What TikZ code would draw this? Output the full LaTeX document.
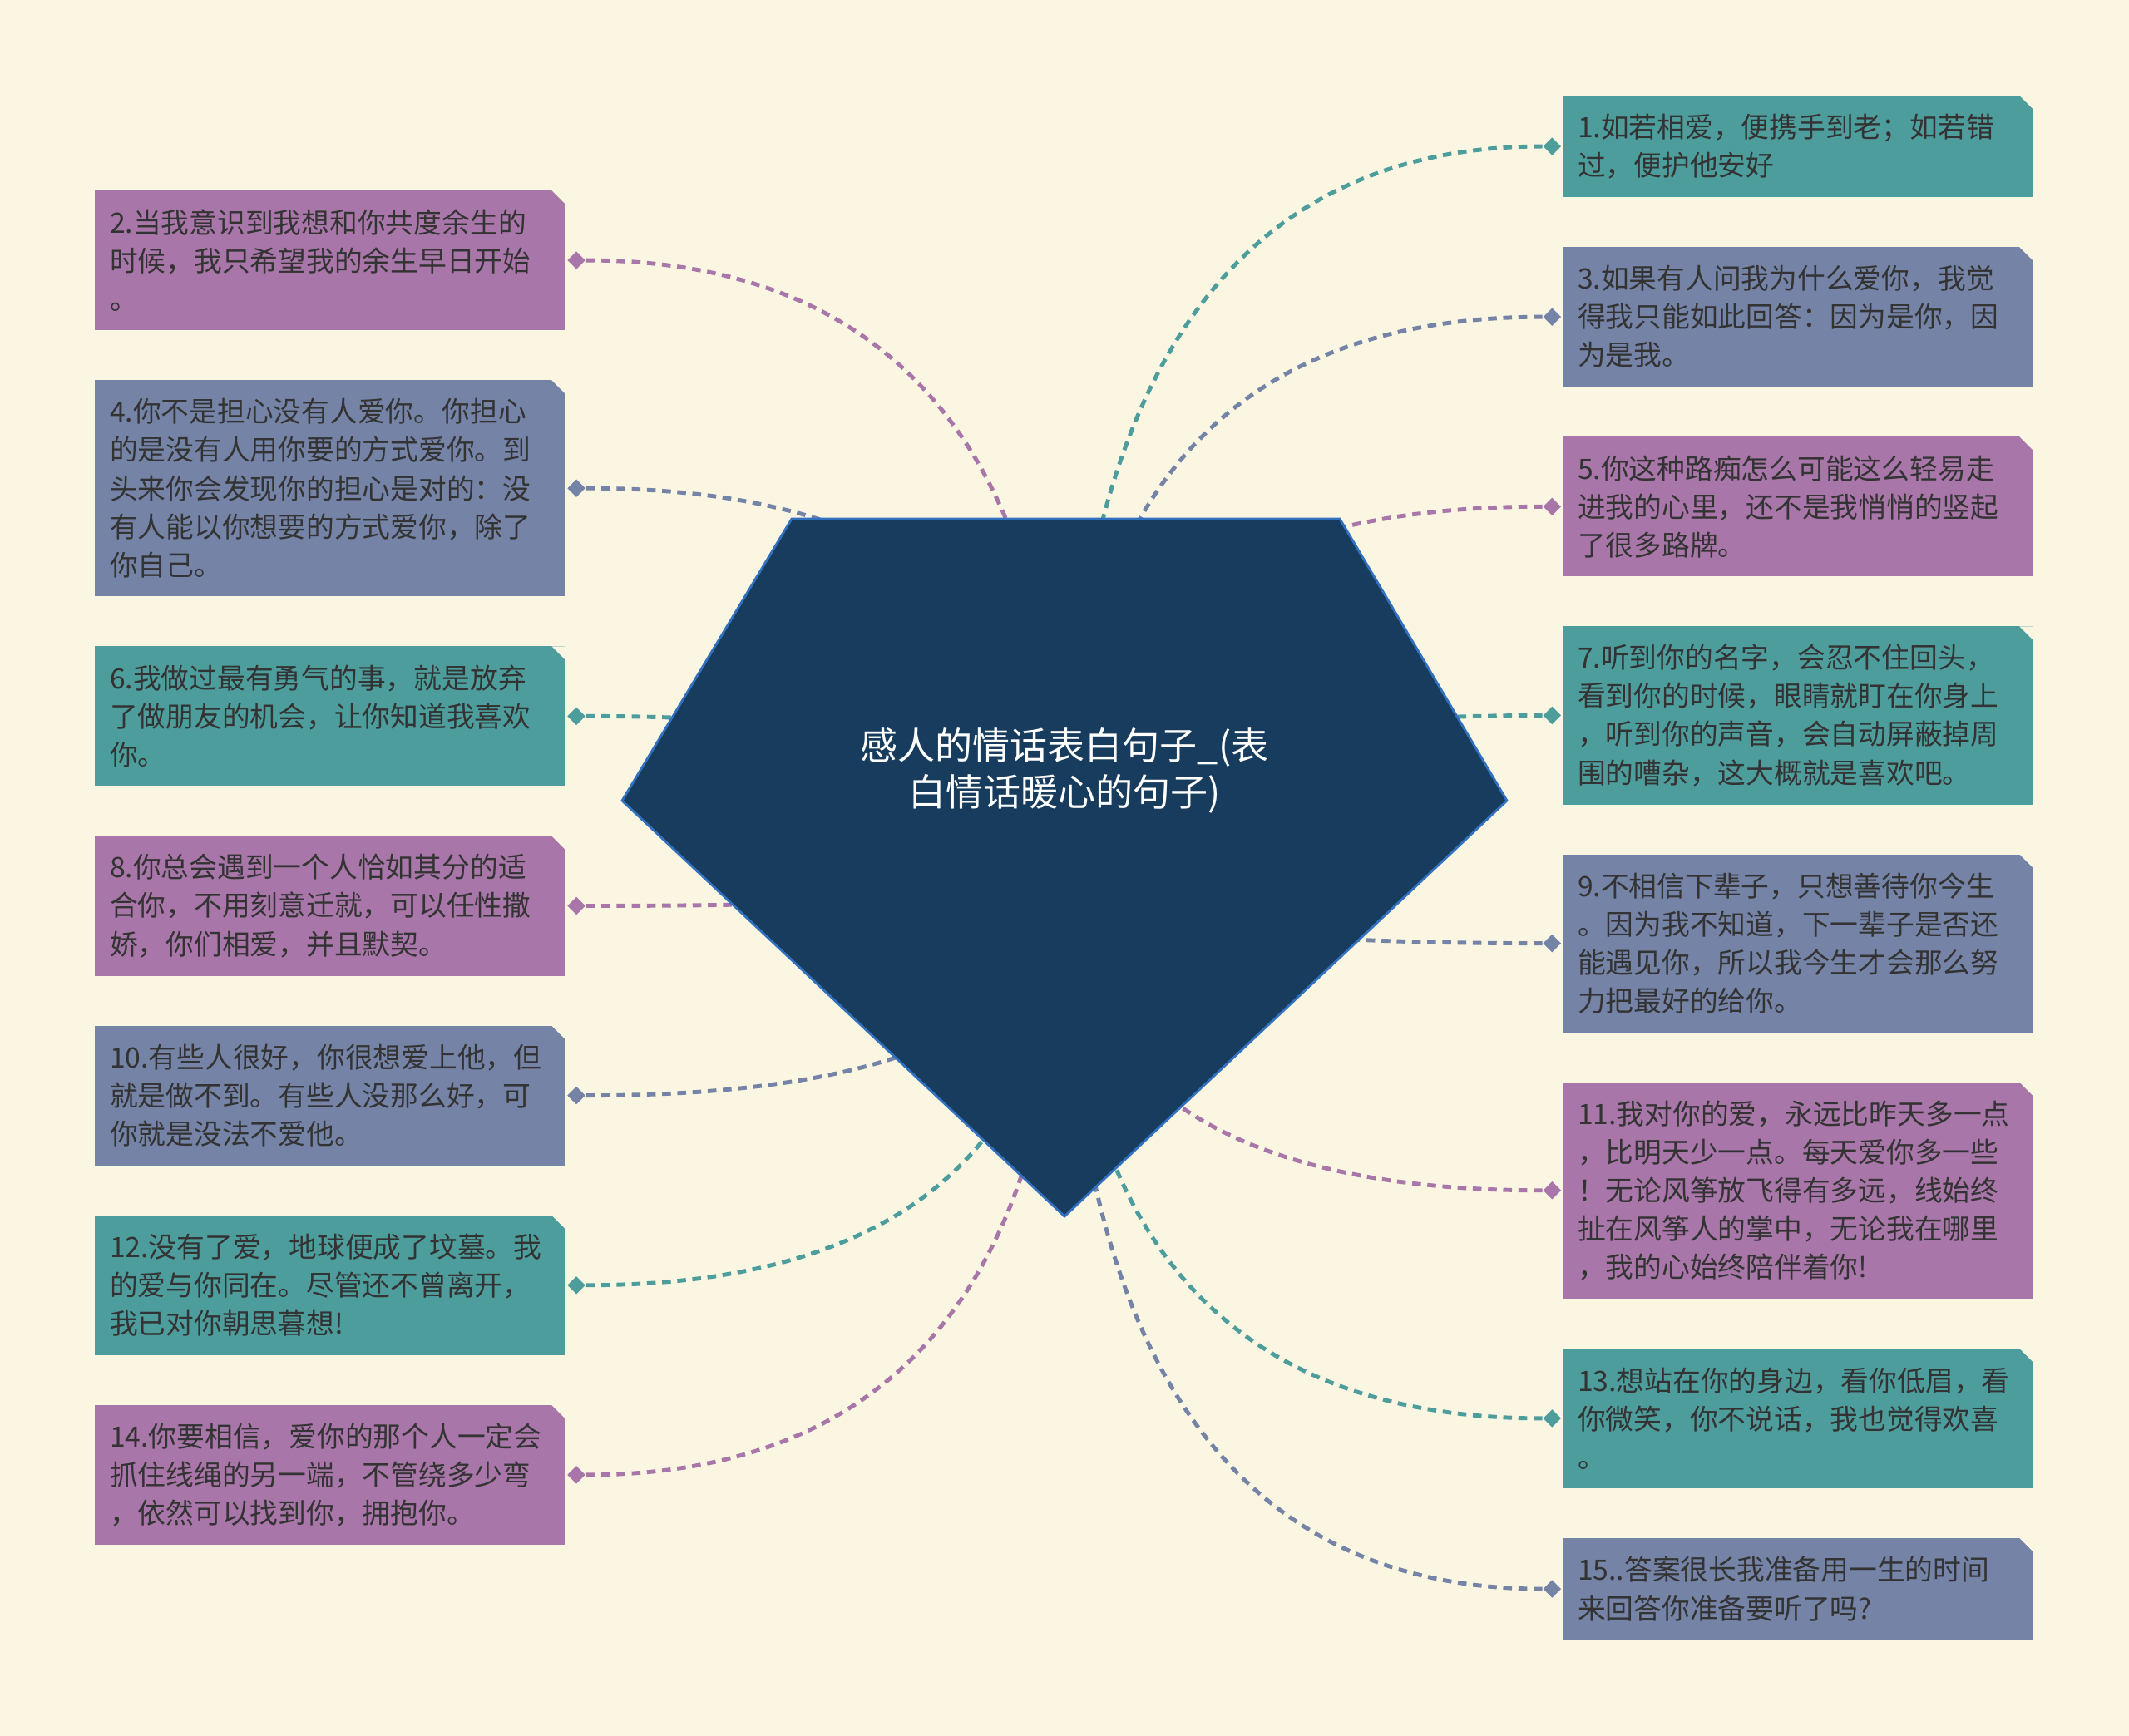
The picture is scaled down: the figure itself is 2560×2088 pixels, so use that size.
\documentclass[tikz,border=0pt]{standalone}
\usepackage{fontspec}
\setmainfont{Noto Sans CJK SC}
\usetikzlibrary{shapes,positioning,calc}
\definecolor{paper}{RGB}{250,246,226}
\definecolor{leafPurple}{RGB}{168,118,168}
\definecolor{leafTeal}{RGB}{78,157,157}
\definecolor{leafSlate}{RGB}{116,131,166}
\definecolor{hubNavy}{RGB}{23,60,93}
\definecolor{hubEdge}{RGB}{50,112,192}
\definecolor{inkGray}{RGB}{51,51,51}

\begin{document}
\begin{tikzpicture}[
    x=0.01cm, y=-0.01cm,
    leaf/.style={rectangle, fill=#1, text=inkGray, minimum width=5.65cm, text width=5.29cm,
        inner xsep=0.18cm, inner ysep=0pt, outer sep=0pt, align=left,
        font=\fontsize{9.6pt}{13.1pt}\selectfont},
    knob/.style={diamond, fill=#1, minimum size=0.22cm, inner sep=0pt},
    spoke/.style={draw=#1, line width=1.4pt, dash pattern=on 3pt off 2.2pt,
        to path={.. controls ($(\tikztostart)!2/3!(\tikztotarget |- \tikztostart)$)
            and ($(\tikztotarget)!2/3!(\tikztotarget |- \tikztostart)$) .. (\tikztotarget)}},
    hubshape/.style={fill=hubNavy, draw=hubEdge, line width=0.8pt, line join=miter},
    hubtext/.style={text=white, align=center, font=\fontsize{12.8pt}{15.7pt}\selectfont}
]
    % Paper
    \fill[paper] (0,0) rectangle (2560,2088);

    % Left column
    \node[leaf=leafPurple, minimum height=1.68cm, anchor=north west] (b2) at (114,229)
        {2.当我意识到我想和你共度余生的\\时候，我只希望我的余生早日开始\\。};
    \node[leaf=leafSlate, minimum height=2.60cm, below=0.6cm of b2] (b4)
        {4.你不是担心没有人爱你。你担心\\的是没有人用你要的方式爱你。到\\头来你会发现你的担心是对的：没\\有人能以你想要的方式爱你，除了\\你自己。};
    \node[leaf=leafTeal, minimum height=1.68cm, below=0.6cm of b4] (b6)
        {6.我做过最有勇气的事，就是放弃\\了做朋友的机会，让你知道我喜欢\\你。};
    \node[leaf=leafPurple, minimum height=1.68cm, below=0.6cm of b6] (b8)
        {8.你总会遇到一个人恰如其分的适\\合你，不用刻意迁就，可以任性撒\\娇，你们相爱，并且默契。};
    \node[leaf=leafSlate, minimum height=1.68cm, below=0.6cm of b8] (b10)
        {10.有些人很好，你很想爱上他，但\\就是做不到。有些人没那么好，可\\你就是没法不爱他。};
    \node[leaf=leafTeal, minimum height=1.68cm, below=0.6cm of b10] (b12)
        {12.没有了爱，地球便成了坟墓。我\\的爱与你同在。尽管还不曾离开，\\我已对你朝思暮想!};
    \node[leaf=leafPurple, minimum height=1.68cm, below=0.6cm of b12] (b14)
        {14.你要相信，爱你的那个人一定会\\抓住线绳的另一端，不管绕多少弯\\，依然可以找到你，拥抱你。};

    % Right column
    \node[leaf=leafTeal, minimum height=1.22cm, anchor=north west] (b1) at (1879,115)
        {1.如若相爱，便携手到老；如若错\\过，便护他安好};
    \node[leaf=leafSlate, minimum height=1.68cm, below=0.6cm of b1] (b3)
        {3.如果有人问我为什么爱你，我觉\\得我只能如此回答：因为是你，因\\为是我。};
    \node[leaf=leafPurple, minimum height=1.68cm, below=0.6cm of b3] (b5)
        {5.你这种路痴怎么可能这么轻易走\\进我的心里，还不是我悄悄的竖起\\了很多路牌。};
    \node[leaf=leafTeal, minimum height=2.14cm, below=0.6cm of b5] (b7)
        {7.听到你的名字，会忍不住回头，\\看到你的时候，眼睛就盯在你身上\\，听到你的声音，会自动屏蔽掉周\\围的嘈杂，这大概就是喜欢吧。};
    \node[leaf=leafSlate, minimum height=2.14cm, below=0.6cm of b7] (b9)
        {9.不相信下辈子，只想善待你今生\\。因为我不知道，下一辈子是否还\\能遇见你，所以我今生才会那么努\\力把最好的给你。};
    \node[leaf=leafPurple, minimum height=2.60cm, below=0.6cm of b9] (b11)
        {11.我对你的爱，永远比昨天多一点\\，比明天少一点。每天爱你多一些\\！无论风筝放飞得有多远，线始终\\扯在风筝人的掌中，无论我在哪里\\，我的心始终陪伴着你!};
    \node[leaf=leafTeal, minimum height=1.68cm, below=0.6cm of b11] (b13)
        {13.想站在你的身边，看你低眉，看\\你微笑，你不说话，我也觉得欢喜\\。};
    \node[leaf=leafSlate, minimum height=1.22cm, below=0.6cm of b13] (b15)
        {15..答案很长我准备用一生的时间\\来回答你准备要听了吗?};

    % Cut corners
    \foreach \n in {1,...,15}
        \fill[paper] ([xshift=-0.16cm]b\n.north east) -- (b\n.north east) -- ([yshift=-0.16cm]b\n.north east) -- cycle;

    % Knobs
    \node[knob=leafPurple, right=0.02cm of b2] (d2) {};
    \node[knob=leafSlate, right=0.02cm of b4] (d4) {};
    \node[knob=leafTeal, right=0.02cm of b6] (d6) {};
    \node[knob=leafPurple, right=0.02cm of b8] (d8) {};
    \node[knob=leafSlate, right=0.02cm of b10] (d10) {};
    \node[knob=leafTeal, right=0.02cm of b12] (d12) {};
    \node[knob=leafPurple, right=0.02cm of b14] (d14) {};
    \node[knob=leafTeal, left=0.01cm of b1] (d1) {};
    \node[knob=leafSlate, left=0.01cm of b3] (d3) {};
    \node[knob=leafPurple, left=0.01cm of b5] (d5) {};
    \node[knob=leafTeal, left=0.01cm of b7] (d7) {};
    \node[knob=leafSlate, left=0.01cm of b9] (d9) {};
    \node[knob=leafPurple, left=0.01cm of b11] (d11) {};
    \node[knob=leafTeal, left=0.01cm of b13] (d13) {};
    \node[knob=leafSlate, left=0.01cm of b15] (d15) {};

    % Spokes
    \coordinate (hub) at (1280,1044);
    \draw[spoke=leafPurple] (d2) to (hub);
    \draw[spoke=leafSlate] (d4) to (hub);
    \draw[spoke=leafTeal] (d6) to (hub);
    \draw[spoke=leafPurple] (d8) to (hub);
    \draw[spoke=leafSlate] (d10) to (hub);
    \draw[spoke=leafTeal] (d12) to (hub);
    \draw[spoke=leafPurple] (d14) to (hub);
    \draw[spoke=leafTeal] (d1) to (hub);
    \draw[spoke=leafSlate] (d3) to (hub);
    \draw[spoke=leafPurple] (d5) to (hub);
    \draw[spoke=leafTeal] (d7) to (hub);
    \draw[spoke=leafSlate] (d9) to (hub);
    \draw[spoke=leafPurple] (d11) to (hub);
    \draw[spoke=leafTeal] (d13) to (hub);
    \draw[spoke=leafSlate] (d15) to (hub);

    % Central topic
    \draw[hubshape] (952,624) -- (1611,624) -- (1812,963) -- (1280,1463) -- (748,963) -- cycle;
    \node[hubtext] (topic) at (1280,927) {感人的情话表白句子\_(表\\白情话暖心的句子)};
\end{tikzpicture}
\end{document}
